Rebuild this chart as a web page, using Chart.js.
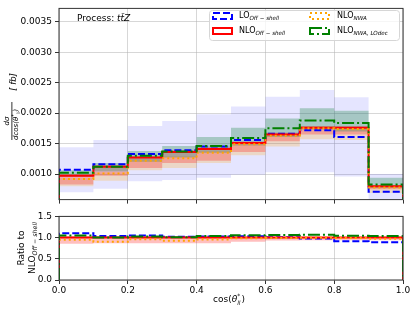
<!DOCTYPE html>
<html>
<head>
<meta charset="utf-8">
<script src="https://cdn.jsdelivr.net/npm/chart.js@4.4.0/dist/chart.umd.min.js"></script>
<style>
  html, body { margin: 0; padding: 0; background: #fff; }
  #wrap { position: relative; width: 415px; height: 312px; }
  canvas { position: absolute; left: 0; }
  #main { top: 0; }
  #ratio { top: 208px; }
</style>
</head>
<body>
<div id="wrap">
  <canvas id="main" width="415" height="208"></canvas>
  <canvas id="ratio" width="415" height="104"></canvas>
</div>
<script>
// bin edges of cos(theta*_ll)
const binEdges = [0.0, 0.1, 0.2, 0.3, 0.4, 0.5, 0.6, 0.7, 0.8, 0.9, 1.0];
const xTicks = [0.0, 0.2, 0.4, 0.6, 0.8, 1.0];
const yTicksMain = [0.0010, 0.0015, 0.0020, 0.0025, 0.0030, 0.0035];
const yGridRatio = [0.0, 0.25, 0.5, 0.75, 1.0, 1.25, 1.5];
const yTicksRatio = [0.0, 0.5, 1.0, 1.5];

// LO off-shell
const loOff     = [0.00107, 0.00116, 0.00133, 0.00139, 0.00145, 0.00156, 0.00166, 0.00172, 0.00161, 0.00071];
const loOffUp   = [0.00144, 0.00156, 0.00179, 0.00187, 0.00198, 0.00211, 0.00227, 0.00238, 0.00226, 0.00100];
const loOffDown = [0.00070, 0.00076, 0.00088, 0.00090, 0.00094, 0.00099, 0.00103, 0.00103, 0.00096, 0.00050];

// NLO off-shell
const nloOff     = [0.00097, 0.00112, 0.00127, 0.00136, 0.00141, 0.00151, 0.00165, 0.00176, 0.00176, 0.00080];
const nloOffUp   = [0.00100, 0.00115, 0.00130, 0.00139, 0.00145, 0.00154, 0.00168, 0.00179, 0.00179, 0.00082];
const nloOffDown = [0.00083, 0.00097, 0.00110, 0.00118, 0.00122, 0.00136, 0.00154, 0.00165, 0.00165, 0.00075];

// NLO NWA
const nloNwa     = [0.00092, 0.00101, 0.00122, 0.00126, 0.00135, 0.00149, 0.00163, 0.00175, 0.00174, 0.00078];
const nloNwaUp   = [0.00094, 0.00103, 0.00124, 0.00129, 0.00138, 0.00152, 0.00166, 0.00178, 0.00177, 0.00080];
const nloNwaDown = [0.00080, 0.00089, 0.00106, 0.00110, 0.00118, 0.00131, 0.00145, 0.00157, 0.00156, 0.00069];

// NLO NWA, LO decay
const nloLodec     = [0.00102, 0.00112, 0.00130, 0.00137, 0.00146, 0.00159, 0.00175, 0.00188, 0.00184, 0.00083];
const nloLodecUp   = [0.00106, 0.00118, 0.00138, 0.00146, 0.00161, 0.00176, 0.00191, 0.00208, 0.00204, 0.00094];
const nloLodecDown = [0.00095, 0.00104, 0.00120, 0.00127, 0.00135, 0.00147, 0.00161, 0.00173, 0.00170, 0.00077];

const FONT = '"DejaVu Sans", sans-serif';
Chart.defaults.font.family = FONT;
Chart.defaults.font.size = 9;
Chart.defaults.color = '#000';

const gridColor = 'rgba(176,176,176,0.5)';
const spineColor = '#333';

const colors = {
  lo: '#0000ff', nlo: '#ff0000', nwa: '#ffa500', lodec: '#008000'
};
const bandColors = {
  lo: 'rgba(0,0,255,0.1)', nlo: 'rgba(255,0,0,0.25)', nwa: 'rgba(255,165,0,0.22)', lodec: 'rgba(46,139,87,0.35)'
};
const dashes = {
  lo: [7, 3], nlo: [], nwa: [2, 3], lodec: [12, 3, 2, 3]
};

function steps(vals, toZero) {
  const last = binEdges[binEdges.length - 1];
  const pts = vals.map((v, i) => ({ x: binEdges[i], y: v }));
  pts.push({ x: last, y: vals[vals.length - 1] });
  if (toZero) {
    pts.unshift({ x: binEdges[0], y: 0 });
    pts.push({ x: last, y: 0 });
  }
  return pts;
}

function line(key, vals, order) {
  return {
    data: steps(vals, true),
    borderColor: colors[key],
    borderWidth: 2,
    borderDash: dashes[key],
    stepped: 'before',
    pointRadius: 0,
    fill: false,
    order
  };
}

function band(key, up, down, order) {
  return [
    { data: steps(up, false), borderColor: 'transparent', backgroundColor: bandColors[key],
      fill: '+1', stepped: 'before', pointRadius: 0, order },
    { data: steps(down, false), borderColor: 'transparent', fill: false,
      stepped: 'before', pointRadius: 0, order }
  ];
}

const ratioOf = vals => vals.map((v, i) => v / nloOff[i]);

// draws "main" followed by an italic subscript
function subText(ctx, x, y, main, sub, size, align) {
  ctx.font = `${size}px ${FONT}`;
  const w1 = ctx.measureText(main).width;
  ctx.font = `italic ${size * 0.7}px ${FONT}`;
  const w2 = ctx.measureText(sub).width;
  let x0 = x;
  if (align === 'center') x0 = x - (w1 + w2) / 2;
  ctx.textAlign = 'left';
  ctx.font = `${size}px ${FONT}`;
  ctx.fillText(main, x0, y);
  ctx.font = `italic ${size * 0.7}px ${FONT}`;
  ctx.fillText(sub, x0 + w1, y + size * 0.3);
}

const framePlugin = {
  id: 'frame',
  afterDraw(chart) {
    const { ctx, chartArea: a } = chart;
    ctx.save();
    ctx.strokeStyle = spineColor;
    ctx.lineWidth = 1;
    ctx.strokeRect(a.left, a.top, a.right - a.left, a.bottom - a.top);
    ctx.restore();
  }
};

const mainText = {
  id: 'mainText',
  afterDraw(chart) {
    const ctx = chart.ctx;
    ctx.save();
    ctx.fillStyle = '#000';
    ctx.textBaseline = 'middle';

    // process label
    ctx.font = `9px ${FONT}`;
    ctx.textAlign = 'left';
    ctx.fillText('Process: ', 77, 19);
    const w = ctx.measureText('Process: ').width;
    ctx.font = `italic 9px ${FONT}`;
    ctx.fillText('tt\u0304Z', 77 + w, 19);

    // legend
    ctx.fillStyle = 'rgba(255,255,255,0.8)';
    ctx.strokeStyle = '#d6d6d6';
    ctx.lineWidth = 1;
    ctx.beginPath();
    ctx.roundRect(209.5, 10.5, 190, 30, 3);
    ctx.fill();
    ctx.stroke();

    const entries = [
      { key: 'lo', main: 'LO', sub: 'Off \u2212 shell', px: 213, tx: 239, y: 16 },
      { key: 'nlo', main: 'NLO', sub: 'Off \u2212 shell', px: 213, tx: 239, y: 31 },
      { key: 'nwa', main: 'NLO', sub: 'NWA', px: 310, tx: 337, y: 16 },
      { key: 'lodec', main: 'NLO', sub: 'NWA, LOdec', px: 310, tx: 337, y: 31 }
    ];
    entries.forEach(e => {
      ctx.strokeStyle = colors[e.key];
      ctx.lineWidth = 2;
      ctx.setLineDash(dashes[e.key]);
      ctx.strokeRect(e.px, e.y - 3, 19, 6);
      ctx.setLineDash([]);
      ctx.fillStyle = '#000';
      subText(ctx, e.tx, e.y, e.main, e.sub, 8, 'left');
    });

    // y axis label: d sigma / d cos(theta*_ll) [fb]
    ctx.translate(0, 121);
    ctx.rotate(-Math.PI / 2);
    ctx.fillStyle = '#000';
    ctx.textAlign = 'center';
    ctx.font = `italic 7px ${FONT}`;
    ctx.fillText('d\u03c3', 0, 7.5);
    ctx.fillRect(-19, 11.5, 38, 0.8);
    ctx.textAlign = 'left';
    let x = -19;
    const parts = [['dcos(\u03b8', 0], ['*', -2.5], ['ll', 2], [')', 0]];
    parts.forEach(([t, dy], i) => {
      ctx.font = (i === 1 || i === 2) ? `italic 5px ${FONT}` : `italic 7px ${FONT}`;
      ctx.fillText(t, x, 16.5 + dy);
      x += ctx.measureText(t).width;
    });
    ctx.font = `italic 8.5px ${FONT}`;
    ctx.textAlign = 'center';
    ctx.fillText('[ fb]', 39, 13.5);
    ctx.restore();
  }
};

const ratioText = {
  id: 'ratioText',
  afterDraw(chart) {
    const ctx = chart.ctx;
    ctx.save();
    ctx.fillStyle = '#000';
    ctx.textBaseline = 'middle';

    // x axis title cos(theta*_ll)
    ctx.textAlign = 'left';
    const xt = 213, yt = 92;
    ctx.font = `9px ${FONT}`;
    ctx.fillText('cos(', xt, yt);
    let x = xt + ctx.measureText('cos(').width;
    ctx.font = `italic 9px ${FONT}`;
    ctx.fillText('\u03b8', x, yt);
    x += ctx.measureText('\u03b8').width;
    ctx.font = `italic 6px ${FONT}`;
    ctx.fillText('*', x, yt - 4);
    ctx.fillText('ll', x, yt + 3);
    x += ctx.measureText('ll').width + 1;
    ctx.font = `9px ${FONT}`;
    ctx.fillText(')', x, yt);

    // y axis label
    ctx.translate(27, 40);
    ctx.rotate(-Math.PI / 2);
    ctx.textAlign = 'center';
    ctx.font = `9px ${FONT}`;
    ctx.fillText('Ratio to', 0, -5);
    subText(ctx, 0, 5.5, 'NLO', 'Off \u2212 shell', 9, 'center');
    ctx.restore();
  }
};

const mainDatasets = [
  ...band('lo', loOffUp, loOffDown, 10),
  ...band('nwa', nloNwaUp, nloNwaDown, 9),
  ...band('nlo', nloOffUp, nloOffDown, 8),
  ...band('lodec', nloLodecUp, nloLodecDown, 7),
  line('lo', loOff, 4),
  line('nlo', nloOff, 3),
  line('nwa', nloNwa, 2),
  line('lodec', nloLodec, 1)
];

new Chart(document.getElementById('main'), {
  type: 'line',
  data: { datasets: mainDatasets },
  options: {
    responsive: false,
    animation: false,
    layout: { padding: { left: 0, right: 12, top: 5, bottom: 0 } },
    plugins: { legend: { display: false }, tooltip: { enabled: false } },
    scales: {
      x: {
        type: 'linear', min: 0, max: 1,
        afterBuildTicks: s => { s.ticks = xTicks.map(v => ({ value: v })); },
        ticks: { display: false },
        grid: { color: gridColor, tickColor: spineColor, tickLength: 4 },
        border: { display: false },
        afterFit: s => { s.height = 5; }
      },
      y: {
        type: 'linear', min: 0.00058, max: 0.00372,
        afterBuildTicks: s => { s.ticks = yTicksMain.map(v => ({ value: v })); },
        ticks: { callback: v => v.toFixed(4), padding: 3 },
        grid: { color: gridColor, tickColor: spineColor, tickLength: 4 },
        border: { display: false },
        afterFit: s => { s.width = 59; }
      }
    }
  },
  plugins: [framePlugin, mainText]
});

const ratioDatasets = [
  ...band('nlo', ratioOf(nloOffUp), ratioOf(nloOffDown), 8),
  line('lo', ratioOf(loOff), 4),
  line('nlo', ratioOf(nloOff), 3),
  line('nwa', ratioOf(nloNwa), 2),
  line('lodec', ratioOf(nloLodec), 1)
];

new Chart(document.getElementById('ratio'), {
  type: 'line',
  data: { datasets: ratioDatasets },
  options: {
    responsive: false,
    animation: false,
    layout: { padding: { left: 0, right: 12, top: 6, bottom: 0 } },
    plugins: { legend: { display: false }, tooltip: { enabled: false } },
    scales: {
      x: {
        type: 'linear', min: 0, max: 1,
        afterBuildTicks: s => { s.ticks = xTicks.map(v => ({ value: v })); },
        ticks: { callback: v => v.toFixed(1), padding: 1, maxRotation: 0 },
        grid: { color: gridColor, tickColor: spineColor, tickLength: 4 },
        border: { display: false },
        afterFit: s => { s.height = 32; }
      },
      y: {
        type: 'linear', min: 0, max: 1.5,
        afterBuildTicks: s => { s.ticks = yGridRatio.map(v => ({ value: v })); },
        ticks: {
          callback: v => yTicksRatio.includes(v) ? v.toFixed(1) : '',
          padding: 3
        },
        grid: { color: gridColor, tickColor: spineColor, tickLength: 4 },
        border: { display: false },
        afterFit: s => { s.width = 59; }
      }
    }
  },
  plugins: [framePlugin, ratioText]
});
</script>
</body>
</html>
